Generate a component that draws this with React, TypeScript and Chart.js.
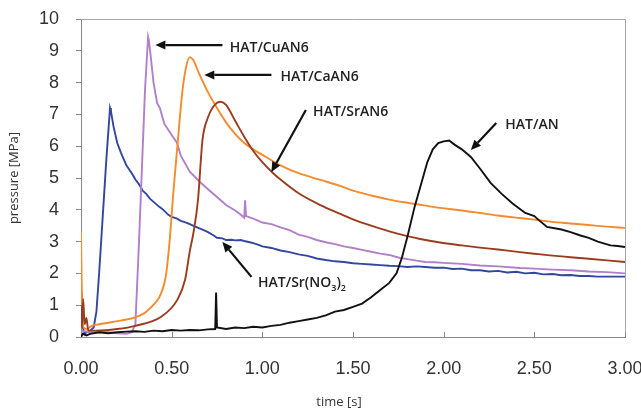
import React, { useEffect, useRef } from "react";
import { Chart, registerables } from "chart.js";

Chart.register(...registerables);

// ---- data ----
const xTicks = [0, 0.5, 1.0, 1.5, 2.0, 2.5, 3.0];

const blueT = [0, 0.004, 0.01, 0.02, 0.03, 0.05, 0.07, 0.085, 0.1, 0.12, 0.14, 0.16, 0.165, 0.18, 0.2, 0.22, 0.25, 0.28, 0.3, 0.32, 0.34, 0.36, 0.38, 0.4, 0.43, 0.45, 0.48, 0.5, 0.53, 0.55, 0.58, 0.6, 0.63, 0.65, 0.68, 0.7, 0.73, 0.75, 0.78, 0.8, 0.83, 0.85, 0.88, 0.9, 0.93, 0.95, 0.98, 1.0, 1.05, 1.1, 1.15, 1.2, 1.25, 1.3, 1.35, 1.4, 1.45, 1.5, 1.55, 1.6, 1.65, 1.7, 1.75, 1.8, 1.85, 1.9, 1.95, 2.0, 2.05, 2.1, 2.15, 2.2, 2.25, 2.3, 2.35, 2.4, 2.45, 2.5, 2.55, 2.6, 2.65, 2.7, 2.75, 2.8, 2.85, 2.9, 2.95, 3.0];
const blueP = [1.4, 0.9, 0.3, 0.1, 0.15, 0.2, 0.3, 0.8, 2.0, 3.8, 5.6, 7.2, 7.1, 6.6, 6.1, 5.8, 5.4, 5.15, 4.95, 4.8, 4.6, 4.5, 4.35, 4.25, 4.1, 4.02, 3.85, 3.78, 3.72, 3.65, 3.6, 3.55, 3.47, 3.42, 3.35, 3.3, 3.2, 3.12, 3.1, 3.05, 3.06, 3.04, 3.05, 3.02, 2.98, 2.95, 2.9, 2.85, 2.8, 2.72, 2.67, 2.6, 2.55, 2.47, 2.42, 2.38, 2.36, 2.32, 2.3, 2.28, 2.26, 2.24, 2.23, 2.2, 2.22, 2.2, 2.18, 2.18, 2.14, 2.15, 2.1, 2.1, 2.06, 2.08, 2.03, 2.05, 2.0, 2.02, 1.97, 1.98, 1.94, 1.95, 1.92, 1.92, 1.9, 1.9, 1.9, 1.9];

const purpleT = [0, 0.05, 0.1, 0.15, 0.2, 0.25, 0.28, 0.3, 0.32, 0.34, 0.353, 0.37, 0.375, 0.385, 0.4, 0.42, 0.435, 0.445, 0.46, 0.5, 0.53, 0.55, 0.6, 0.66, 0.71, 0.75, 0.8, 0.85, 0.88, 0.9, 0.905, 0.91, 0.95, 1.0, 1.05, 1.1, 1.15, 1.2, 1.25, 1.3, 1.35, 1.4, 1.45, 1.5, 1.55, 1.6, 1.65, 1.7, 1.75, 1.8, 1.85, 1.9, 1.95, 2.0, 2.1, 2.2, 2.3, 2.42, 2.5, 2.6, 2.7, 2.8, 2.9, 3.0];
const purpleP = [0.2, 0.15, 0.15, 0.15, 0.12, 0.1, 0.15, 0.4, 3.0, 5.9, 7.77, 9.43, 9.3, 8.8, 8.0, 7.35, 7.2, 7.0, 6.7, 6.35, 6.1, 5.7, 5.2, 4.85, 4.6, 4.4, 4.15, 3.98, 3.85, 3.75, 4.3, 3.8, 3.72, 3.6, 3.55, 3.45, 3.36, 3.22, 3.15, 3.05, 2.98, 2.92, 2.85, 2.8, 2.74, 2.68, 2.62, 2.58, 2.5, 2.45, 2.4, 2.36, 2.35, 2.33, 2.3, 2.25, 2.22, 2.17, 2.15, 2.12, 2.1, 2.06, 2.04, 2.0];

const orangeT = [0, 0.003, 0.008, 0.015, 0.03, 0.06, 0.1, 0.15, 0.2, 0.25, 0.29, 0.35, 0.38, 0.42, 0.44, 0.46, 0.47, 0.49, 0.51, 0.53, 0.56, 0.58, 0.6, 0.62, 0.65, 0.7, 0.75, 0.8, 0.84, 0.9, 0.95, 1.02, 1.1, 1.2, 1.32, 1.43, 1.5, 1.6, 1.7, 1.8, 1.9, 1.98, 2.1, 2.2, 2.3, 2.42, 2.5, 2.6, 2.7, 2.8, 2.9, 3.0];
const orangeP = [3.3, 2.0, 0.6, 0.3, 0.25, 0.35, 0.4, 0.45, 0.5, 0.55, 0.6, 0.75, 0.9, 1.15, 1.35, 1.7, 2.0, 3.1, 4.6, 5.9, 7.77, 8.5, 8.8, 8.7, 8.3, 7.7, 7.2, 6.75, 6.45, 6.1, 5.9, 5.66, 5.4, 5.15, 4.94, 4.75, 4.6, 4.45, 4.32, 4.22, 4.13, 4.06, 3.98, 3.9, 3.82, 3.74, 3.69, 3.62, 3.57, 3.52, 3.47, 3.43];

const brownT = [0, 0.005, 0.012, 0.02, 0.03, 0.04, 0.08, 0.2, 0.3, 0.44, 0.53, 0.574, 0.6, 0.62, 0.645, 0.67, 0.7, 0.73, 0.77, 0.8, 0.85, 0.9, 0.95, 1.0, 1.06, 1.1, 1.2, 1.32, 1.43, 1.5, 1.6, 1.7, 1.8, 1.87, 1.98, 2.1, 2.2, 2.3, 2.42, 2.5, 2.6, 2.7, 2.8, 2.9, 3.0];
const brownP = [1.0, 0.3, 1.2, 0.4, 0.6, 0.2, 0.2, 0.25, 0.35, 0.63, 1.16, 1.8, 2.7, 3.27, 4.3, 6.2, 6.9, 7.25, 7.4, 7.3, 6.8, 6.3, 5.85, 5.5, 5.15, 4.95, 4.52, 4.15, 3.87, 3.7, 3.5, 3.32, 3.17, 3.08, 2.97, 2.88, 2.81, 2.75, 2.67, 2.62, 2.56, 2.51, 2.46, 2.41, 2.36];

const blackT = [0, 0.01, 0.03, 0.05, 0.1, 0.15, 0.2, 0.25, 0.3, 0.35, 0.4, 0.45, 0.5, 0.55, 0.6, 0.65, 0.7, 0.74, 0.745, 0.75, 0.8, 0.85, 0.9, 0.95, 1.0, 1.05, 1.1, 1.15, 1.2, 1.25, 1.3, 1.35, 1.4, 1.45, 1.5, 1.55, 1.6, 1.65, 1.7, 1.74, 1.77, 1.8, 1.84, 1.88, 1.91, 1.94, 1.97, 2.0, 2.03, 2.06, 2.1, 2.15, 2.2, 2.26, 2.32, 2.38, 2.45, 2.5, 2.52, 2.57, 2.65, 2.7, 2.75, 2.8, 2.85, 2.92, 2.96, 3.0];
const blackP = [0.0, 0.1, 0.05, 0.1, 0.15, 0.12, 0.15, 0.17, 0.18, 0.16, 0.2, 0.18, 0.22, 0.2, 0.22, 0.21, 0.24, 0.25, 1.4, 0.3, 0.25, 0.3, 0.28, 0.32, 0.3, 0.35, 0.38, 0.45, 0.5, 0.55, 0.6, 0.68, 0.8, 0.85, 0.95, 1.05, 1.25, 1.48, 1.7, 2.0, 2.5, 3.15, 4.1, 4.9, 5.5, 5.9, 6.1, 6.15, 6.18, 6.05, 5.9, 5.66, 5.3, 4.84, 4.5, 4.2, 3.9, 3.8, 3.7, 3.46, 3.38, 3.3, 3.2, 3.12, 3.0, 2.88, 2.86, 2.83];

// annotations (data coordinates)
const annLabels = ["HAT/CuAN6", "HAT/CaAN6", "HAT/SrAN6", "HAT/AN", "HAT/Sr(NO3)2"];
const annTextX = [0.82, 1.10, 1.28, 2.34, 0.976];
const annTextY = [9.1, 8.18, 7.08, 6.67, 1.70];
const arrowFromX = [0.78, 1.05, 1.24, 2.29, 0.94];
const arrowFromY = [9.18, 8.24, 7.14, 6.73, 1.89];
const arrowToX = [0.41, 0.68, 1.05, 2.15, 0.78];
const arrowToY = [9.18, 8.24, 5.19, 5.88, 2.99];

const toPts = (t: number[], p: number[]) => t.map((x, i) => ({ x, y: p[i] }));

const annotationPlugin = {
  id: "annotations",
  afterDatasetsDraw(chart: any) {
    const { ctx, scales, chartArea } = chart;
    const xs = scales.x;
    const ys = scales.y;
    ctx.save();
    // frame top/right
    ctx.strokeStyle = "#a8a8a8";
    ctx.lineWidth = 1;
    ctx.beginPath();
    ctx.moveTo(chartArea.left, chartArea.top + 0.5);
    ctx.lineTo(chartArea.right + 0.5, chartArea.top + 0.5);
    ctx.lineTo(chartArea.right + 0.5, chartArea.bottom);
    ctx.stroke();
    // inward x ticks
    ctx.strokeStyle = "#888";
    xTicks.forEach((v) => {
      if (v === 0) return;
      const px = Math.round(xs.getPixelForValue(v)) + 0.5;
      ctx.beginPath();
      ctx.moveTo(px, chartArea.bottom);
      ctx.lineTo(px, chartArea.bottom - 5);
      ctx.stroke();
    });
    // arrows
    ctx.strokeStyle = "#111";
    ctx.fillStyle = "#111";
    ctx.lineWidth = 2.2;
    for (let i = 0; i < annLabels.length; i++) {
      const x1 = xs.getPixelForValue(arrowFromX[i]);
      const y1 = ys.getPixelForValue(arrowFromY[i]);
      const x2 = xs.getPixelForValue(arrowToX[i]);
      const y2 = ys.getPixelForValue(arrowToY[i]);
      const ang = Math.atan2(y2 - y1, x2 - x1);
      const hl = 10;
      const hw = 4.5;
      const bx = x2 - hl * Math.cos(ang);
      const by = y2 - hl * Math.sin(ang);
      ctx.beginPath();
      ctx.moveTo(x1, y1);
      ctx.lineTo(bx, by);
      ctx.stroke();
      ctx.beginPath();
      ctx.moveTo(x2, y2);
      ctx.lineTo(bx + hw * Math.sin(ang), by - hw * Math.cos(ang));
      ctx.lineTo(bx - hw * Math.sin(ang), by + hw * Math.cos(ang));
      ctx.closePath();
      ctx.fill();
    }
    // labels
    ctx.fillStyle = "#222";
    ctx.textBaseline = "middle";
    ctx.textAlign = "left";
    const mainFont = "600 14px 'Open Sans'";
    const subFont = "600 9px 'Open Sans'";
    for (let i = 0; i < annLabels.length; i++) {
      const tx = xs.getPixelForValue(annTextX[i]);
      const ty = ys.getPixelForValue(annTextY[i]);
      const label = annLabels[i];
      if (label === "HAT/Sr(NO3)2") {
        const parts: [string, boolean][] = [["HAT/Sr(NO", false], ["3", true], [")", false], ["2", true]];
        let cx = tx;
        parts.forEach(([s, sub]) => {
          ctx.font = sub ? subFont : mainFont;
          ctx.fillText(s, cx, sub ? ty + 5 : ty);
          cx += ctx.measureText(s).width;
        });
      } else {
        ctx.font = mainFont;
        ctx.fillText(label, tx, ty);
      }
    }
    // axis titles
    ctx.fillStyle = "#333";
    ctx.font = "500 13px 'Open Sans'";
    ctx.textAlign = "center";
    ctx.fillText("time [s]", 339, 402);
    ctx.save();
    ctx.translate(14, 178);
    ctx.rotate(-Math.PI / 2);
    ctx.fillText("pressure [MPa]", 0, 0);
    ctx.restore();
    ctx.restore();
  },
};

export default function App() {
  const ref = useRef<HTMLCanvasElement | null>(null);
  useEffect(() => {
    if (!ref.current) return;
    const lw = 1.9;
    const mk = (label: string, t: number[], p: number[], color: string, smooth: boolean) => ({
      label,
      data: toPts(t, p),
      borderColor: color,
      backgroundColor: color,
      borderWidth: lw,
      pointRadius: 0,
      tension: smooth ? 0.4 : 0,
      cubicInterpolationMode: smooth ? "monotone" : "default",
      fill: false,
    });
    const chart = new Chart(ref.current, {
      type: "line",
      data: {
        datasets: [
          mk("HAT/AN", blackT, blackP, "#111111", false),
          mk("HAT/SrAN6", brownT, brownP, "#9a3c1e", true),
          mk("HAT/CaAN6", orangeT, orangeP, "#f58b2c", true),
          mk("HAT/CuAN6", purpleT, purpleP, "#b27fc9", false),
          mk("HAT/Sr(NO3)2", blueT, blueP, "#33479e", false),
        ] as any,
      },
      options: {
        animation: false,
        responsive: false,
        devicePixelRatio: 1,
        layout: { padding: { left: 0, right: 16, top: 19, bottom: 0 } },
        plugins: { legend: { display: false }, tooltip: { enabled: false } },
        scales: {
          x: {
            type: "linear",
            min: 0,
            max: 3,
            afterBuildTicks: (s: any) => {
              s.ticks = xTicks.map((v) => ({ value: v }));
            },
            ticks: {
              callback: (v: any) => Number(v).toFixed(2),
              font: { family: "'Liberation Sans', Arial", size: 18 },
              color: "#333",
              padding: 13,
              maxRotation: 0,
              autoSkip: false,
            },
            grid: { display: false },
            border: { display: true, color: "#888", width: 1 },
            afterFit: (s: any) => {
              s.height = 73;
              s.paddingLeft = 0;
              s.paddingRight = 0;
            },
          },
          y: {
            min: 0,
            max: 10,
            ticks: {
              stepSize: 1,
              font: { family: "'Liberation Sans', Arial", size: 18 },
              color: "#333",
              padding: 17,
            },
            grid: { display: true, drawOnChartArea: false, tickLength: 5, color: "#888" },
            border: { display: true, color: "#888", width: 1 },
            afterFit: (s: any) => {
              s.width = 81;
              s.paddingTop = 0;
              s.paddingBottom = 0;
            },
          },
        },
      } as any,
      plugins: [annotationPlugin],
    });
    return () => chart.destroy();
  }, []);
  return (
    <div style={{ position: "fixed", left: 0, top: 0, width: 641, height: 410, background: "#fff" }}>
      <canvas ref={ref} width={641} height={410} />
    </div>
  );
}
